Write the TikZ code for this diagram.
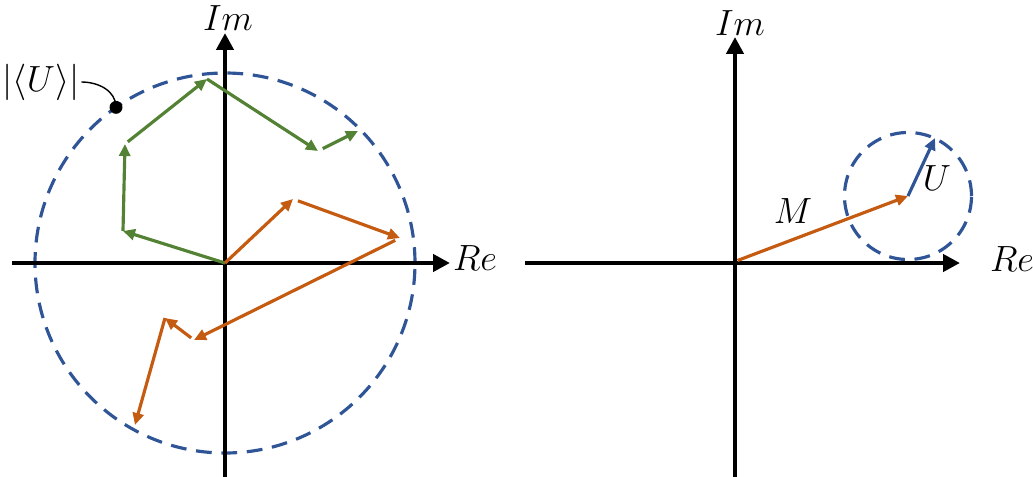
\documentclass[tikz,border=0pt]{standalone}
\usepackage{amsmath,amssymb}
\usetikzlibrary{arrows.meta,positioning}
\definecolor{ringblue}{RGB}{47,85,151}
\definecolor{leafgreen}{RGB}{84,130,53}
\definecolor{rustorange}{RGB}{197,90,17}
\tikzset{
  axis/.style   = {line width=2.8pt, -{Triangle[length=3.4mm,width=3.4mm]}},
  gvec/.style   = {line width=1.8pt, leafgreen, -{Triangle[length=2.4mm,width=2.2mm]}},
  ovec/.style   = {line width=1.8pt, rustorange, -{Triangle[length=2.4mm,width=2.2mm]}},
  bvec/.style   = {line width=1.8pt, ringblue, -{Triangle[length=2.4mm,width=2.2mm]}},
  ring/.style   = {line width=1.8pt, ringblue, dash pattern=on 9pt off 5.5pt},
  lbl/.style    = {font=\fontsize{20}{24}\selectfont, inner sep=1pt},
  dot/.style    = {circle, fill=black, inner sep=2.6pt},
}
\begin{document}
\begin{tikzpicture}[x=1cm,y=1cm]
  \useasboundingbox (-4.5,-4.26) rectangle (16.16,5.26);
  % left: sum of many phasors
  \coordinate (O) at (0,0);
  \draw[ring] (O) circle (3.8);
  \coordinate (xl) at (-4.26,0);  \coordinate (xr) at (4.5,0);
  \coordinate (yb) at (0,-4.3);   \coordinate (yt) at (0,4.6);
  \draw[axis] (xl) -- (xr);
  \draw[axis] (yb) -- (yt);
  \node[lbl] (im1) at (0.06,4.9) {$Im$};
  \node[lbl] (re1) at (5.0,0.1) {$Re$};
  % green walk
  \coordinate (g1) at (-2.04,0.64);
  \coordinate (g2) at (-2.0,2.38);
  \coordinate (g3) at (-0.36,3.68);
  \coordinate (g4) at (1.86,2.24);
  \coordinate (g5) at (2.66,2.64);
  \draw[gvec] (O) -- (g1);
  \draw[gvec] (g1) -- (g2);
  \draw[gvec,shorten <=2pt] (g2) -- (g3);
  \draw[gvec] (g3) -- (g4);
  \draw[gvec,shorten <=3pt] (g4) -- (g5);
  % orange walk
  \coordinate (o1) at (1.36,1.28);
  \coordinate (o2) at (3.5,0.5);
  \coordinate (o3) at (-0.62,-1.54);
  \coordinate (o4) at (-1.2,-1.1);
  \coordinate (o5) at (-1.8,-3.24);
  \draw[ovec] (O) -- (o1);
  \draw[ovec,shorten <=3pt] (o1) -- (o2);
  \draw[ovec,shorten <=3pt] (o2) -- (o3);
  \draw[ovec,shorten <=2pt] (o3) -- (o4);
  \draw[ovec] (o4) -- (o5);
  % radius marker
  \node[dot] (mark) at (125:3.8) {};
  \node[lbl] (rad) at (-3.68,3.62) {$\lvert\langle U\rangle\rvert$};
  \draw[thick] (rad.east) to[out=0,in=90] (mark.center);
  % right: mean phasor plus fluctuation
  \begin{scope}[xshift=10.2cm]
    \coordinate (P) at (0,0);
    \coordinate (xl2) at (-4.2,0);  \coordinate (xr2) at (4.5,0);
    \coordinate (yb2) at (0,-4.3);  \coordinate (yt2) at (0,4.52);
    \draw[axis] (xl2) -- (xr2);
    \draw[axis] (yb2) -- (yt2);
    \node[lbl] (im2) at (0.1,4.8) {$Im$};
    \node[lbl] (re2) at (5.54,0.08) {$Re$};
    \coordinate (m) at (3.46,1.34);
    \coordinate (u) at (4.0,2.5);
    \draw[ring] (m) circle (1.27);
    \draw[ovec] (0.05,0.05) -- (m);
    \draw[bvec] (m) -- (u);
    \node[lbl] (mlab) at (1.16,1.04) {$M$};
    \node[lbl] (ulab) at (4.04,1.7) {$U$};
  \end{scope}
\end{tikzpicture}
\end{document}
